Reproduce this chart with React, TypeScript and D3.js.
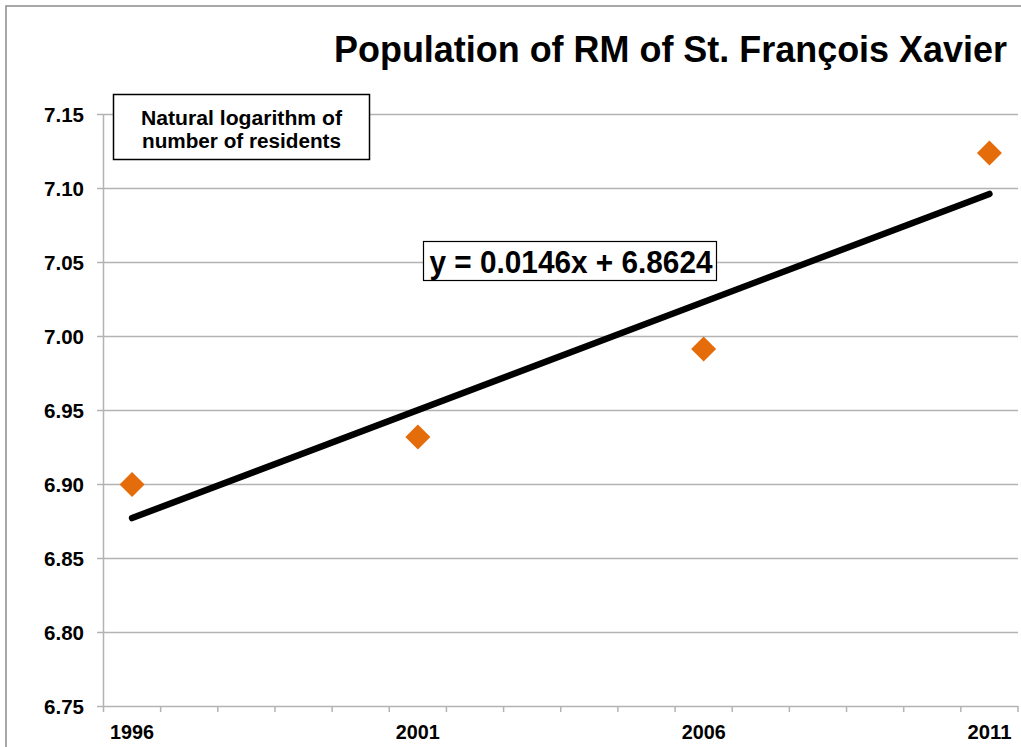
import React from "react";
import * as d3 from "d3";

const years: string[] = ["1996","1997","1998","1999","2000","2001","2002","2003","2004","2005","2006","2007","2008","2009","2010","2011"];
const labelYears: string[] = ["1996", "2001", "2006", "2011"];
const pointYears: string[] = ["1996", "2001", "2006", "2011"];
const pointValues: number[] = [6.8997, 6.9318, 6.9912, 7.1236];
const yTicks: number[] = [6.75, 6.8, 6.85, 6.9, 6.95, 7.0, 7.05, 7.1, 7.15];
const trendSlope = 0.0146;
const trendIntercept = 6.8624;
const title = "Population of RM of St. François Xavier";
const legendLines: string[] = ["Natural logarithm of", "number of residents"];
const equation = "y = 0.0146x + 6.8624";

const W = 1021;
const H = 747;
const FONT = "Arial, 'Liberation Sans', Helvetica, sans-serif";
const GRID = "#b3b3b3";
const ORANGE = "#E46C0A";

type TProps = { x: number; y: number; size: number; anchor: string; width: number; text: string };

function StretchText({ x, y, size, anchor, width, text }: TProps) {
  return (
    <text
      x={x}
      y={y}
      textAnchor={anchor}
      style={{ fontSize: `${size}px`, fontWeight: 700, fontFamily: FONT }}
      fill="#000"
      textLength={width}
      lengthAdjust="spacingAndGlyphs"
    >
      {text}
    </text>
  );
}

export default function App() {
  const plotLeft = 103.5;
  const plotRight = 1018;
  const plotTop = 114;
  const plotBottom = 706;

  const x = d3.scaleBand<string>().domain(years).range([plotLeft, plotRight]).paddingInner(0).paddingOuter(0);
  const y = d3.scaleLinear().domain([6.75, 7.15]).range([plotBottom, plotTop]);

  const cx = (yr: string) => (x(yr) as number) + x.bandwidth() / 2;

  const line = d3.line<number>()
    .x((i) => cx(years[i]))
    .y((i) => y(trendSlope * (i + 1) + trendIntercept));
  const trendPath = line([0, years.length - 1]) as string;

  const diamond = (px: number, py: number, r: number) =>
    `M${px},${py - r}L${px + r},${py}L${px},${py + r}L${px - r},${py}Z`;

  const boundaries = years.map((yr) => x(yr) as number).concat([plotRight]);

  return (
    <svg width={W} height={H} style={{ position: "absolute", left: 0, top: 0, background: "#fff" }}>
      <rect x={0} y={0} width={W} height={H} fill="#fff" />
      <rect x={6} y={6} width={W + 20} height={H + 20} fill="none" stroke="#8a8a8a" strokeWidth={1.5} />

      {yTicks.map((t) => (
        <line key={"g" + t} x1={97} x2={plotRight} y1={Math.round(y(t)) + 0.5} y2={Math.round(y(t)) + 0.5} stroke={GRID} strokeWidth={1.5} />
      ))}
      <line x1={plotLeft} x2={plotLeft} y1={plotTop} y2={plotBottom} stroke={GRID} strokeWidth={1.5} />
      {boundaries.map((bx, i) => (
        <line key={"xt" + i} x1={bx} x2={bx} y1={plotBottom} y2={plotBottom + 6} stroke={GRID} strokeWidth={1.5} />
      ))}

      {yTicks.map((t) => (
        <StretchText key={"yl" + t} x={84} y={y(t) + 7.5} size={21} anchor="end" width={40} text={t.toFixed(2)} />
      ))}
      {labelYears.map((yr) => (
        <StretchText key={"xl" + yr} x={cx(yr)} y={739} size={21} anchor="middle" width={44} text={yr} />
      ))}

      <path d={trendPath} stroke="#000" strokeWidth={6.5} strokeLinecap="round" fill="none" />

      {pointYears.map((yr, i) => (
        <path key={"p" + yr} d={diamond(cx(yr), y(pointValues[i]), 12.5)} fill={ORANGE} />
      ))}

      <StretchText x={1007} y={62} size={36} anchor="end" width={673} text={title} />

      <rect x={113.5} y={94.5} width={256} height={65} fill="#fff" stroke="#000" strokeWidth={1.5} />
      {legendLines.map((l, i) => (
        <StretchText key={"lg" + i} x={241.5} y={125 + i * 23} size={20} anchor="middle" width={i === 0 ? 201 : 199} text={l} />
      ))}

      <rect x={423.5} y={241.5} width={293} height={39} fill="#fff" stroke="#000" strokeWidth={1.2} />
      <StretchText x={571} y={273} size={32} anchor="middle" width={283} text={equation} />
    </svg>
  );
}
